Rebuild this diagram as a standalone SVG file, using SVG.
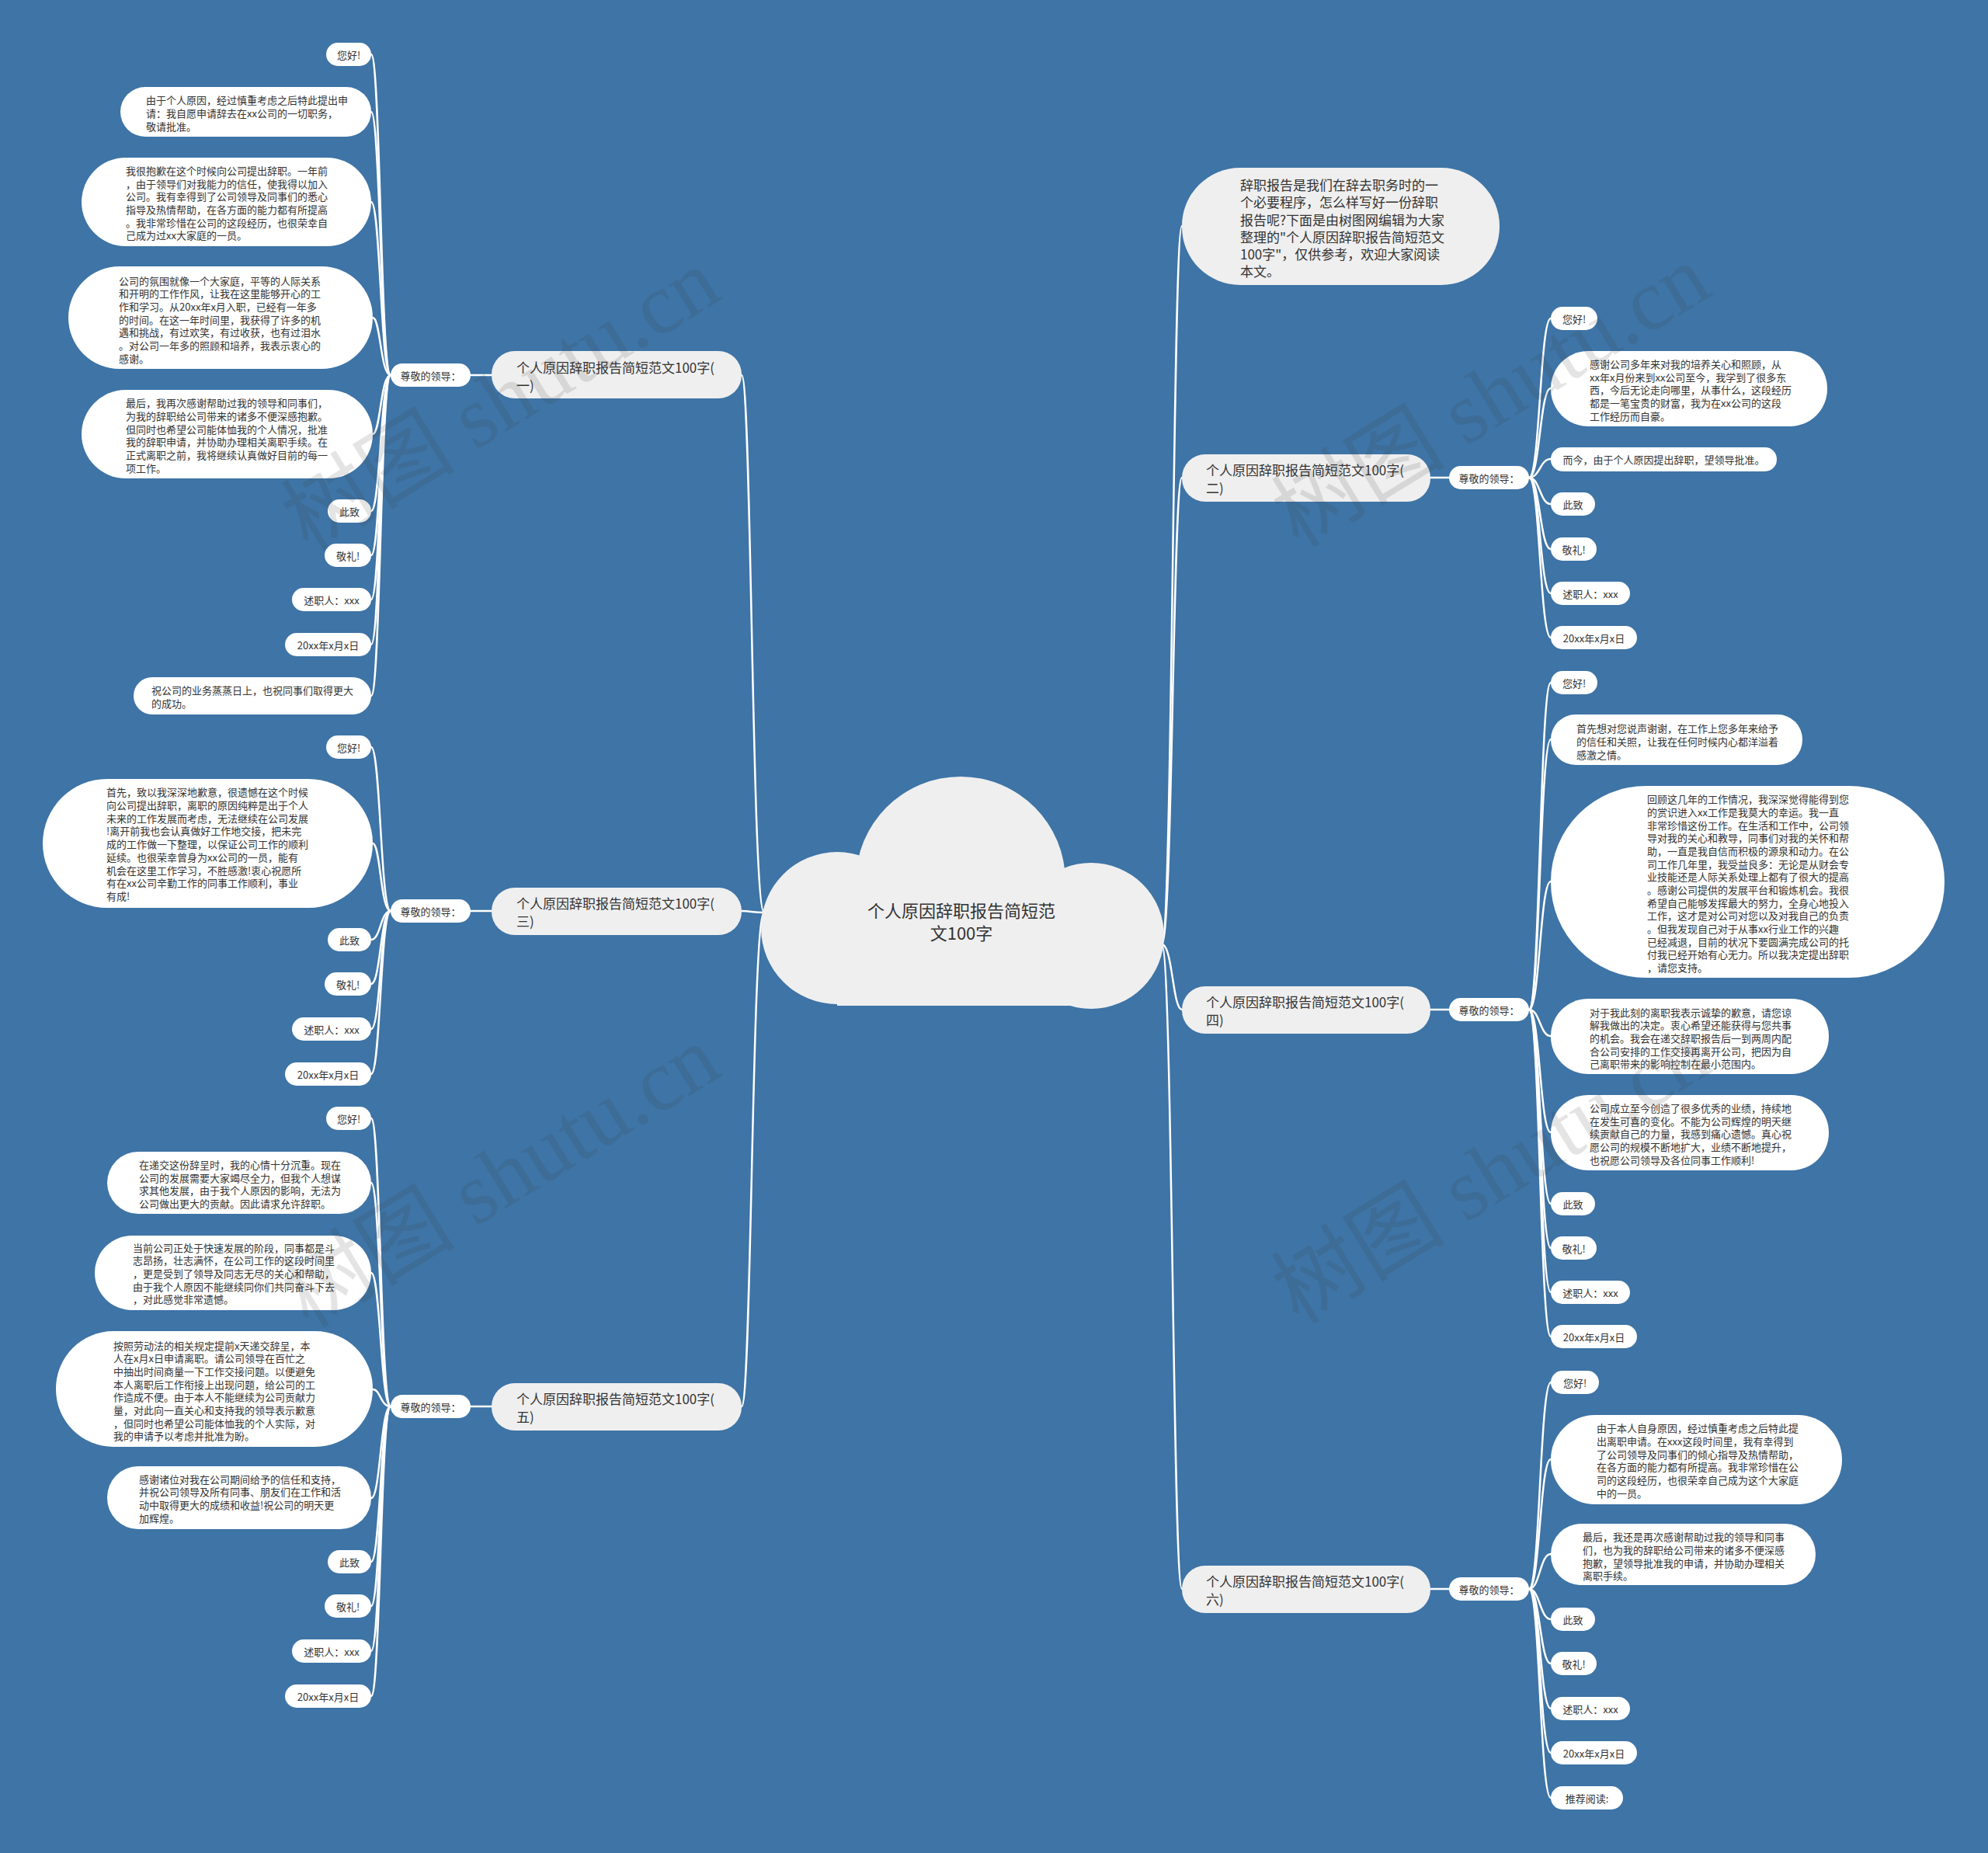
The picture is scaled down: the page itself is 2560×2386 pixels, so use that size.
<svg xmlns="http://www.w3.org/2000/svg" width="2560" height="2386" viewBox="0 0 2560 2386">
<style>
.bg{fill:#3e74a6}
.cloud{fill:#efefef}
.main{fill:#efefef}
.leaf{fill:#ffffff}
text{font-family:"Noto Sans CJK SC","Noto Sans",sans-serif;fill:#333333;dominant-baseline:central}
.t{font-size:13px}
.tc{font-size:13px;text-anchor:middle}
.mt{font-size:17px}
.ct{font-size:22px;text-anchor:middle}
.link{fill:none;stroke:#ffffff;stroke-width:2.5;stroke-linecap:round}
.wm{font-family:"Liberation Serif","Noto Sans CJK SC",serif;font-size:112px;fill:#3a3a3a;opacity:0.13;text-anchor:middle;dominant-baseline:central}
</style>
<rect class="bg" x="0" y="0" width="2560" height="2386"/>

<g id="connectors">
<path class="link" d="M984 1175 C968 1175 968 483 955 483"/>
<path class="link" d="M984 1175 C968 1175 968 1173 955 1173"/>
<path class="link" d="M984 1175 C968 1175 968 1811 955 1811"/>
<path class="link" d="M1496 1216 C1510 1216 1510 291 1522 291"/>
<path class="link" d="M1496 1216 C1510 1216 1510 615 1522 615"/>
<path class="link" d="M1496 1216 C1510 1216 1510 1300 1522 1300"/>
<path class="link" d="M1496 1216 C1510 1216 1510 2046 1522 2046"/>
<path class="link" d="M633 483 L606 483"/>
<path class="link" d="M633 1173 L606 1173"/>
<path class="link" d="M633 1811 L606 1811"/>
<path class="link" d="M1842 615 L1866 615"/>
<path class="link" d="M1842 1300 L1866 1300"/>
<path class="link" d="M1842 2046 L1866 2046"/>
<path class="link" d="M503 483 C490 483 490 70 478 70"/>
<path class="link" d="M503 483 C490 483 490 144 478 144"/>
<path class="link" d="M503 483 C490 483 490 260 478 260"/>
<path class="link" d="M503 483 C490 483 490 409 480 409"/>
<path class="link" d="M503 483 C490 483 490 559 480 559"/>
<path class="link" d="M503 483 C490 483 490 658 478 658"/>
<path class="link" d="M503 483 C490 483 490 715 478 715"/>
<path class="link" d="M503 483 C490 483 490 772 478 772"/>
<path class="link" d="M503 483 C490 483 490 830 478 830"/>
<path class="link" d="M503 483 C490 483 490 896 478 896"/>
<path class="link" d="M503 1173 C490 1173 490 962 478 962"/>
<path class="link" d="M503 1173 C490 1173 490 1086 480 1086"/>
<path class="link" d="M503 1173 C490 1173 490 1210 478 1210"/>
<path class="link" d="M503 1173 C490 1173 490 1267 478 1267"/>
<path class="link" d="M503 1173 C490 1173 490 1325 478 1325"/>
<path class="link" d="M503 1173 C490 1173 490 1383 478 1383"/>
<path class="link" d="M503 1811 C490 1811 490 1440 478 1440"/>
<path class="link" d="M503 1811 C490 1811 490 1523 478 1523"/>
<path class="link" d="M503 1811 C490 1811 490 1639 478 1639"/>
<path class="link" d="M503 1811 C490 1811 490 1789 480 1789"/>
<path class="link" d="M503 1811 C490 1811 490 1929 478 1929"/>
<path class="link" d="M503 1811 C490 1811 490 2011 478 2011"/>
<path class="link" d="M503 1811 C490 1811 490 2068 478 2068"/>
<path class="link" d="M503 1811 C490 1811 490 2126 478 2126"/>
<path class="link" d="M503 1811 C490 1811 490 2184 478 2184"/>
<path class="link" d="M1969 615 C1983 615 1983 410 1997 410"/>
<path class="link" d="M1969 615 C1983 615 1983 500 1997 500"/>
<path class="link" d="M1969 615 C1983 615 1983 591 1997 591"/>
<path class="link" d="M1969 615 C1983 615 1983 649 1997 649"/>
<path class="link" d="M1969 615 C1983 615 1983 707 1997 707"/>
<path class="link" d="M1969 615 C1983 615 1983 764 1997 764"/>
<path class="link" d="M1969 615 C1983 615 1983 821 1997 821"/>
<path class="link" d="M1969 1300 C1983 1300 1983 879 1997 879"/>
<path class="link" d="M1969 1300 C1983 1300 1983 952 1997 952"/>
<path class="link" d="M1969 1300 C1983 1300 1983 1135 1997 1135"/>
<path class="link" d="M1969 1300 C1983 1300 1983 1334 1997 1334"/>
<path class="link" d="M1969 1300 C1983 1300 1983 1458 1997 1458"/>
<path class="link" d="M1969 1300 C1983 1300 1983 1550 1997 1550"/>
<path class="link" d="M1969 1300 C1983 1300 1983 1607 1997 1607"/>
<path class="link" d="M1969 1300 C1983 1300 1983 1664 1997 1664"/>
<path class="link" d="M1969 1300 C1983 1300 1983 1721 1997 1721"/>
<path class="link" d="M1969 2046 C1983 2046 1983 1780 1997 1780"/>
<path class="link" d="M1969 2046 C1983 2046 1983 1879 1997 1879"/>
<path class="link" d="M1969 2046 C1983 2046 1983 2001 1997 2001"/>
<path class="link" d="M1969 2046 C1983 2046 1983 2085 1997 2085"/>
<path class="link" d="M1969 2046 C1983 2046 1983 2142 1997 2142"/>
<path class="link" d="M1969 2046 C1983 2046 1983 2200 1997 2200"/>
<path class="link" d="M1969 2046 C1983 2046 1983 2257 1997 2257"/>
<path class="link" d="M1969 2046 C1983 2046 1983 2315 1997 2315"/>
</g>

<g id="center">
<circle class="cloud" cx="1237" cy="1135" r="135"/>
<circle class="cloud" cx="1078" cy="1195" r="98"/>
<circle class="cloud" cx="1405" cy="1205" r="94"/>
<rect class="cloud" x="1078" y="1150" width="327" height="145"/>
<text class="ct" x="1238" y="1171">个人原因辞职报告简短范</text>
<text class="ct" x="1238" y="1200">文100字</text>
</g>

<g id="main-1"><rect class="main" x="633" y="452" width="322" height="61" rx="30"/><text class="mt" x="665" y="472">个人原因辞职报告简短范文100字(</text><text class="mt" x="665" y="495">一)</text></g>
<g id="main-3"><rect class="main" x="633" y="1143" width="322" height="61" rx="30"/><text class="mt" x="665" y="1162">个人原因辞职报告简短范文100字(</text><text class="mt" x="665" y="1185">三)</text></g>
<g id="main-5"><rect class="main" x="633" y="1781" width="322" height="61" rx="30"/><text class="mt" x="665" y="1800">个人原因辞职报告简短范文100字(</text><text class="mt" x="665" y="1823">五)</text></g>
<g id="main-2"><rect class="main" x="1522" y="585" width="320" height="61" rx="30"/><text class="mt" x="1553" y="604">个人原因辞职报告简短范文100字(</text><text class="mt" x="1553" y="627">二)</text></g>
<g id="main-4"><rect class="main" x="1522" y="1270" width="320" height="61" rx="30"/><text class="mt" x="1553" y="1289">个人原因辞职报告简短范文100字(</text><text class="mt" x="1553" y="1312">四)</text></g>
<g id="main-6"><rect class="main" x="1522" y="2016" width="320" height="61" rx="30"/><text class="mt" x="1553" y="2035">个人原因辞职报告简短范文100字(</text><text class="mt" x="1553" y="2058">六)</text></g>

<g id="intro"><rect class="main" x="1522" y="216" width="409" height="151" rx="75"/>
<text class="mt" x="1597" y="237">辞职报告是我们在辞去职务时的一</text>
<text class="mt" x="1597" y="259">个必要程序，怎么样写好一份辞职</text>
<text class="mt" x="1597" y="282">报告呢?下面是由树图网编辑为大家</text>
<text class="mt" x="1597" y="304">整理的"个人原因辞职报告简短范文</text>
<text class="mt" x="1597" y="326">100字"，仅供参考，欢迎大家阅读</text>
<text class="mt" x="1597" y="348">本文。</text>
</g>

<g id="lead-1"><rect class="leaf" x="503" y="468" width="103" height="30" rx="15"/><text class="tc" x="554.5" y="483">尊敬的领导：</text></g>
<g id="lead-3"><rect class="leaf" x="503" y="1158" width="103" height="30" rx="15"/><text class="tc" x="554.5" y="1173">尊敬的领导：</text></g>
<g id="lead-5"><rect class="leaf" x="503" y="1796" width="103" height="30" rx="15"/><text class="tc" x="554.5" y="1811">尊敬的领导：</text></g>
<g id="lead-2"><rect class="leaf" x="1866" y="600" width="103" height="30" rx="15"/><text class="tc" x="1917.5" y="615">尊敬的领导：</text></g>
<g id="lead-4"><rect class="leaf" x="1866" y="1285" width="103" height="30" rx="15"/><text class="tc" x="1917.5" y="1300">尊敬的领导：</text></g>
<g id="lead-6"><rect class="leaf" x="1866" y="2031" width="103" height="30" rx="15"/><text class="tc" x="1917.5" y="2046">尊敬的领导：</text></g>

<g id="n1-1"><rect class="leaf" x="420" y="55" width="58" height="30" rx="15"/><text class="tc" x="449" y="70">您好!</text></g>
<g id="n1-2"><rect class="leaf" x="155" y="112" width="323" height="64" rx="32"/>
<text class="t" x="188" y="128">由于个人原因，经过慎重考虑之后特此提出申</text>
<text class="t" x="188" y="145">请：我自愿申请辞去在xx公司的一切职务，</text>
<text class="t" x="188" y="162">敬请批准。</text></g>
<g id="n1-3"><rect class="leaf" x="105" y="203" width="373" height="114" rx="57"/>
<text class="t" x="162" y="219">我很抱歉在这个时候向公司提出辞职。一年前</text>
<text class="t" x="162" y="236">，由于领导们对我能力的信任，使我得以加入</text>
<text class="t" x="162" y="252">公司。我有幸得到了公司领导及同事们的悉心</text>
<text class="t" x="162" y="269">指导及热情帮助，在各方面的能力都有所提高</text>
<text class="t" x="162" y="286">。我非常珍惜在公司的这段经历，也很荣幸自</text>
<text class="t" x="162" y="302">己成为过xx大家庭的一员。</text></g>
<g id="n1-4"><rect class="leaf" x="88" y="343" width="392" height="132" rx="66"/>
<text class="t" x="153" y="361">公司的氛围就像一个大家庭，平等的人际关系</text>
<text class="t" x="153" y="377">和开明的工作作风，让我在这里能够开心的工</text>
<text class="t" x="153" y="394">作和学习。从20xx年x月入职，已经有一年多</text>
<text class="t" x="153" y="411">的时间。在这一年时间里，我获得了许多的机</text>
<text class="t" x="153" y="427">遇和挑战，有过欢笑，有过收获，也有过泪水</text>
<text class="t" x="153" y="444">。对公司一年多的照顾和培养，我表示衷心的</text>
<text class="t" x="153" y="461">感谢。</text></g>
<g id="n1-5"><rect class="leaf" x="105" y="502" width="375" height="114" rx="57"/>
<text class="t" x="162" y="518">最后，我再次感谢帮助过我的领导和同事们，</text>
<text class="t" x="162" y="535">为我的辞职给公司带来的诸多不便深感抱歉。</text>
<text class="t" x="162" y="552">但同时也希望公司能体恤我的个人情况，批准</text>
<text class="t" x="162" y="568">我的辞职申请，并协助办理相关离职手续。在</text>
<text class="t" x="162" y="585">正式离职之前，我将继续认真做好目前的每一</text>
<text class="t" x="162" y="602">项工作。</text></g>
<g id="n1-6"><rect class="leaf" x="422" y="643" width="56" height="30" rx="15"/><text class="tc" x="450" y="658">此致</text></g>
<g id="n1-7"><rect class="leaf" x="418" y="700" width="60" height="30" rx="15"/><text class="tc" x="448" y="715">敬礼!</text></g>
<g id="n1-8"><rect class="leaf" x="376" y="757" width="102" height="30" rx="15"/><text class="tc" x="427" y="772">述职人：xxx</text></g>
<g id="n1-9"><rect class="leaf" x="367" y="815" width="111" height="30" rx="15"/><text class="tc" x="422.5" y="830">20xx年x月x日</text></g>
<g id="n1-10"><rect class="leaf" x="172" y="872" width="306" height="48" rx="24"/>
<text class="t" x="195" y="888">祝公司的业务蒸蒸日上，也祝同事们取得更大</text>
<text class="t" x="195" y="905">的成功。</text></g>

<g id="n3-1"><rect class="leaf" x="420" y="947" width="58" height="30" rx="15"/><text class="tc" x="449" y="962">您好!</text></g>
<g id="n3-2"><rect class="leaf" x="55" y="1003" width="425" height="166" rx="83"/>
<text class="t" x="137" y="1019">首先，致以我深深地歉意，很遗憾在这个时候</text>
<text class="t" x="137" y="1036">向公司提出辞职，离职的原因纯粹是出于个人</text>
<text class="t" x="137" y="1053">未来的工作发展而考虑，无法继续在公司发展</text>
<text class="t" x="137" y="1069">!离开前我也会认真做好工作地交接，把未完</text>
<text class="t" x="137" y="1086">成的工作做一下整理，以保证公司工作的顺利</text>
<text class="t" x="137" y="1103">延续。也很荣幸曾身为xx公司的一员，能有</text>
<text class="t" x="137" y="1120">机会在这里工作学习，不胜感激!衷心祝愿所</text>
<text class="t" x="137" y="1136">有在xx公司辛勤工作的同事工作顺利，事业</text>
<text class="t" x="137" y="1153">有成!</text></g>
<g id="n3-3"><rect class="leaf" x="422" y="1195" width="56" height="30" rx="15"/><text class="tc" x="450" y="1210">此致</text></g>
<g id="n3-4"><rect class="leaf" x="418" y="1252" width="60" height="30" rx="15"/><text class="tc" x="448" y="1267">敬礼!</text></g>
<g id="n3-5"><rect class="leaf" x="376" y="1310" width="102" height="30" rx="15"/><text class="tc" x="427" y="1325">述职人：xxx</text></g>
<g id="n3-6"><rect class="leaf" x="367" y="1368" width="111" height="30" rx="15"/><text class="tc" x="422.5" y="1383">20xx年x月x日</text></g>

<g id="n5-1"><rect class="leaf" x="420" y="1425" width="58" height="30" rx="15"/><text class="tc" x="449" y="1440">您好!</text></g>
<g id="n5-2"><rect class="leaf" x="138" y="1483" width="340" height="80" rx="40"/>
<text class="t" x="179" y="1499">在递交这份辞呈时，我的心情十分沉重。现在</text>
<text class="t" x="179" y="1516">公司的发展需要大家竭尽全力，但我个人想谋</text>
<text class="t" x="179" y="1532">求其他发展，由于我个人原因的影响，无法为</text>
<text class="t" x="179" y="1549">公司做出更大的贡献。因此请求允许辞职。</text></g>
<g id="n5-3"><rect class="leaf" x="122" y="1591" width="356" height="96" rx="48"/>
<text class="t" x="171" y="1606">当前公司正处于快速发展的阶段，同事都是斗</text>
<text class="t" x="171" y="1622">志昂扬，壮志满怀，在公司工作的这段时间里</text>
<text class="t" x="171" y="1639">，更是受到了领导及同志无尽的关心和帮助，</text>
<text class="t" x="171" y="1656">由于我个人原因不能继续同你们共同奋斗下去</text>
<text class="t" x="171" y="1672">，对此感觉非常遗憾。</text></g>
<g id="n5-4"><rect class="leaf" x="72" y="1714" width="408" height="149" rx="74"/>
<text class="t" x="146" y="1732">按照劳动法的相关规定提前x天递交辞呈，本</text>
<text class="t" x="146" y="1748">人在x月x日申请离职。请公司领导在百忙之</text>
<text class="t" x="146" y="1765">中抽出时间商量一下工作交接问题。以便避免</text>
<text class="t" x="146" y="1782">本人离职后工作衔接上出现问题，给公司的工</text>
<text class="t" x="146" y="1798">作造成不便。由于本人不能继续为公司贡献力</text>
<text class="t" x="146" y="1815">量，对此向一直关心和支持我的领导表示歉意</text>
<text class="t" x="146" y="1832">，但同时也希望公司能体恤我的个人实际，对</text>
<text class="t" x="146" y="1848">我的申请予以考虑并批准为盼。</text></g>
<g id="n5-5"><rect class="leaf" x="138" y="1888" width="340" height="81" rx="40"/>
<text class="t" x="179" y="1904">感谢诸位对我在公司期间给予的信任和支持，</text>
<text class="t" x="179" y="1920">并祝公司领导及所有同事、朋友们在工作和活</text>
<text class="t" x="179" y="1937">动中取得更大的成绩和收益!祝公司的明天更</text>
<text class="t" x="179" y="1954">加辉煌。</text></g>
<g id="n5-6"><rect class="leaf" x="422" y="1996" width="56" height="30" rx="15"/><text class="tc" x="450" y="2011">此致</text></g>
<g id="n5-7"><rect class="leaf" x="418" y="2053" width="60" height="30" rx="15"/><text class="tc" x="448" y="2068">敬礼!</text></g>
<g id="n5-8"><rect class="leaf" x="376" y="2111" width="102" height="30" rx="15"/><text class="tc" x="427" y="2126">述职人：xxx</text></g>
<g id="n5-9"><rect class="leaf" x="367" y="2169" width="111" height="30" rx="15"/><text class="tc" x="422.5" y="2184">20xx年x月x日</text></g>

<g id="n2-1"><rect class="leaf" x="1997" y="395" width="60" height="30" rx="15"/><text class="tc" x="2027" y="410">您好!</text></g>
<g id="n2-2"><rect class="leaf" x="1997" y="452" width="356" height="97" rx="48"/>
<text class="t" x="2047" y="468">感谢公司多年来对我的培养关心和照顾，从</text>
<text class="t" x="2047" y="485">xx年x月份来到xx公司至今，我学到了很多东</text>
<text class="t" x="2047" y="501">西，今后无论走向哪里，从事什么，这段经历</text>
<text class="t" x="2047" y="518">都是一笔宝贵的财富，我为在xx公司的这段</text>
<text class="t" x="2047" y="535">工作经历而自豪。</text></g>
<g id="n2-3"><rect class="leaf" x="1997" y="576" width="291" height="31" rx="15"/><text class="tc" x="2142.5" y="591">而今，由于个人原因提出辞职，望领导批准。</text></g>
<g id="n2-4"><rect class="leaf" x="1997" y="634" width="57" height="30" rx="15"/><text class="tc" x="2025.5" y="649">此致</text></g>
<g id="n2-5"><rect class="leaf" x="1997" y="692" width="59" height="30" rx="15"/><text class="tc" x="2026.5" y="707">敬礼!</text></g>
<g id="n2-6"><rect class="leaf" x="1997" y="749" width="102" height="30" rx="15"/><text class="tc" x="2048" y="764">述职人：xxx</text></g>
<g id="n2-7"><rect class="leaf" x="1997" y="806" width="111" height="30" rx="15"/><text class="tc" x="2052.5" y="821">20xx年x月x日</text></g>

<g id="n4-1"><rect class="leaf" x="1997" y="864" width="60" height="30" rx="15"/><text class="tc" x="2027" y="879">您好!</text></g>
<g id="n4-2"><rect class="leaf" x="1997" y="920" width="324" height="65" rx="32"/>
<text class="t" x="2030" y="937">首先想对您说声谢谢，在工作上您多年来给予</text>
<text class="t" x="2030" y="954">的信任和关照，让我在任何时候内心都洋溢着</text>
<text class="t" x="2030" y="971">感激之情。</text></g>
<g id="n4-3"><rect class="leaf" x="1997" y="1012" width="507" height="247" rx="123"/>
<text class="t" x="2121" y="1028">回顾这几年的工作情况，我深深觉得能得到您</text>
<text class="t" x="2121" y="1045">的赏识进入xx工作是我莫大的幸运。我一直</text>
<text class="t" x="2121" y="1062">非常珍惜这份工作。在生活和工作中，公司领</text>
<text class="t" x="2121" y="1078">导对我的关心和教导，同事们对我的关怀和帮</text>
<text class="t" x="2121" y="1095">助，一直是我自信而积极的源泉和动力。在公</text>
<text class="t" x="2121" y="1112">司工作几年里，我受益良多：无论是从财会专</text>
<text class="t" x="2121" y="1128">业技能还是人际关系处理上都有了很大的提高</text>
<text class="t" x="2121" y="1145">。感谢公司提供的发展平台和锻炼机会。我很</text>
<text class="t" x="2121" y="1162">希望自己能够发挥最大的努力，全身心地投入</text>
<text class="t" x="2121" y="1178">工作，这才是对公司对您以及对我自己的负责</text>
<text class="t" x="2121" y="1195">。但我发现自己对于从事xx行业工作的兴趣</text>
<text class="t" x="2121" y="1212">已经减退，目前的状况下要圆满完成公司的托</text>
<text class="t" x="2121" y="1228">付我已经开始有心无力。所以我决定提出辞职</text>
<text class="t" x="2121" y="1245">，请您支持。</text></g>
<g id="n4-4"><rect class="leaf" x="1997" y="1286" width="358" height="97" rx="48"/>
<text class="t" x="2047" y="1303">对于我此刻的离职我表示诚挚的歉意，请您谅</text>
<text class="t" x="2047" y="1319">解我做出的决定。衷心希望还能获得与您共事</text>
<text class="t" x="2047" y="1336">的机会。我会在递交辞职报告后一到两周内配</text>
<text class="t" x="2047" y="1353">合公司安排的工作交接再离开公司，把因为自</text>
<text class="t" x="2047" y="1369">己离职带来的影响控制在最小范围内。</text></g>
<g id="n4-5"><rect class="leaf" x="1997" y="1410" width="358" height="97" rx="48"/>
<text class="t" x="2047" y="1426">公司成立至今创造了很多优秀的业绩，持续地</text>
<text class="t" x="2047" y="1443">在发生可喜的变化。不能为公司辉煌的明天继</text>
<text class="t" x="2047" y="1459">续贡献自己的力量，我感到痛心遗憾。真心祝</text>
<text class="t" x="2047" y="1476">愿公司的规模不断地扩大，业绩不断地提升，</text>
<text class="t" x="2047" y="1493">也祝愿公司领导及各位同事工作顺利!</text></g>
<g id="n4-6"><rect class="leaf" x="1997" y="1535" width="57" height="30" rx="15"/><text class="tc" x="2025.5" y="1550">此致</text></g>
<g id="n4-7"><rect class="leaf" x="1997" y="1592" width="59" height="30" rx="15"/><text class="tc" x="2026.5" y="1607">敬礼!</text></g>
<g id="n4-8"><rect class="leaf" x="1997" y="1649" width="102" height="30" rx="15"/><text class="tc" x="2048" y="1664">述职人：xxx</text></g>
<g id="n4-9"><rect class="leaf" x="1997" y="1706" width="111" height="30" rx="15"/><text class="tc" x="2052.5" y="1721">20xx年x月x日</text></g>

<g id="n6-1"><rect class="leaf" x="1997" y="1765" width="62" height="30" rx="15"/><text class="tc" x="2028" y="1780">您好!</text></g>
<g id="n6-2"><rect class="leaf" x="1997" y="1822" width="375" height="115" rx="57"/>
<text class="t" x="2056" y="1838">由于本人自身原因，经过慎重考虑之后特此提</text>
<text class="t" x="2056" y="1855">出离职申请。在xxx这段时间里，我有幸得到</text>
<text class="t" x="2056" y="1872">了公司领导及同事们的倾心指导及热情帮助，</text>
<text class="t" x="2056" y="1888">在各方面的能力都有所提高。我非常珍惜在公</text>
<text class="t" x="2056" y="1905">司的这段经历，也很荣幸自己成为这个大家庭</text>
<text class="t" x="2056" y="1922">中的一员。</text></g>
<g id="n6-3"><rect class="leaf" x="1997" y="1962" width="341" height="79" rx="39"/>
<text class="t" x="2038" y="1978">最后，我还是再次感谢帮助过我的领导和同事</text>
<text class="t" x="2038" y="1995">们，也为我的辞职给公司带来的诸多不便深感</text>
<text class="t" x="2038" y="2012">抱歉，望领导批准我的申请，并协助办理相关</text>
<text class="t" x="2038" y="2028">离职手续。</text></g>
<g id="n6-4"><rect class="leaf" x="1997" y="2070" width="57" height="30" rx="15"/><text class="tc" x="2025.5" y="2085">此致</text></g>
<g id="n6-5"><rect class="leaf" x="1997" y="2127" width="59" height="30" rx="15"/><text class="tc" x="2026.5" y="2142">敬礼!</text></g>
<g id="n6-6"><rect class="leaf" x="1997" y="2185" width="102" height="30" rx="15"/><text class="tc" x="2048" y="2200">述职人：xxx</text></g>
<g id="n6-7"><rect class="leaf" x="1997" y="2242" width="111" height="30" rx="15"/><text class="tc" x="2052.5" y="2257">20xx年x月x日</text></g>
<g id="n6-8"><rect class="leaf" x="1997" y="2300" width="93" height="30" rx="15"/><text class="tc" x="2043.5" y="2315">推荐阅读:</text></g>

<g id="watermark">
<text class="wm" transform="translate(645 515) rotate(-31.5)">树图 shutu.cn</text>
<text class="wm" transform="translate(1920 510) rotate(-31.5)">树图 shutu.cn</text>
<text class="wm" transform="translate(645 1515) rotate(-31.5)">树图 shutu.cn</text>
<text class="wm" transform="translate(1920 1510) rotate(-31.5)">树图 shutu.cn</text>
</g>
</svg>
